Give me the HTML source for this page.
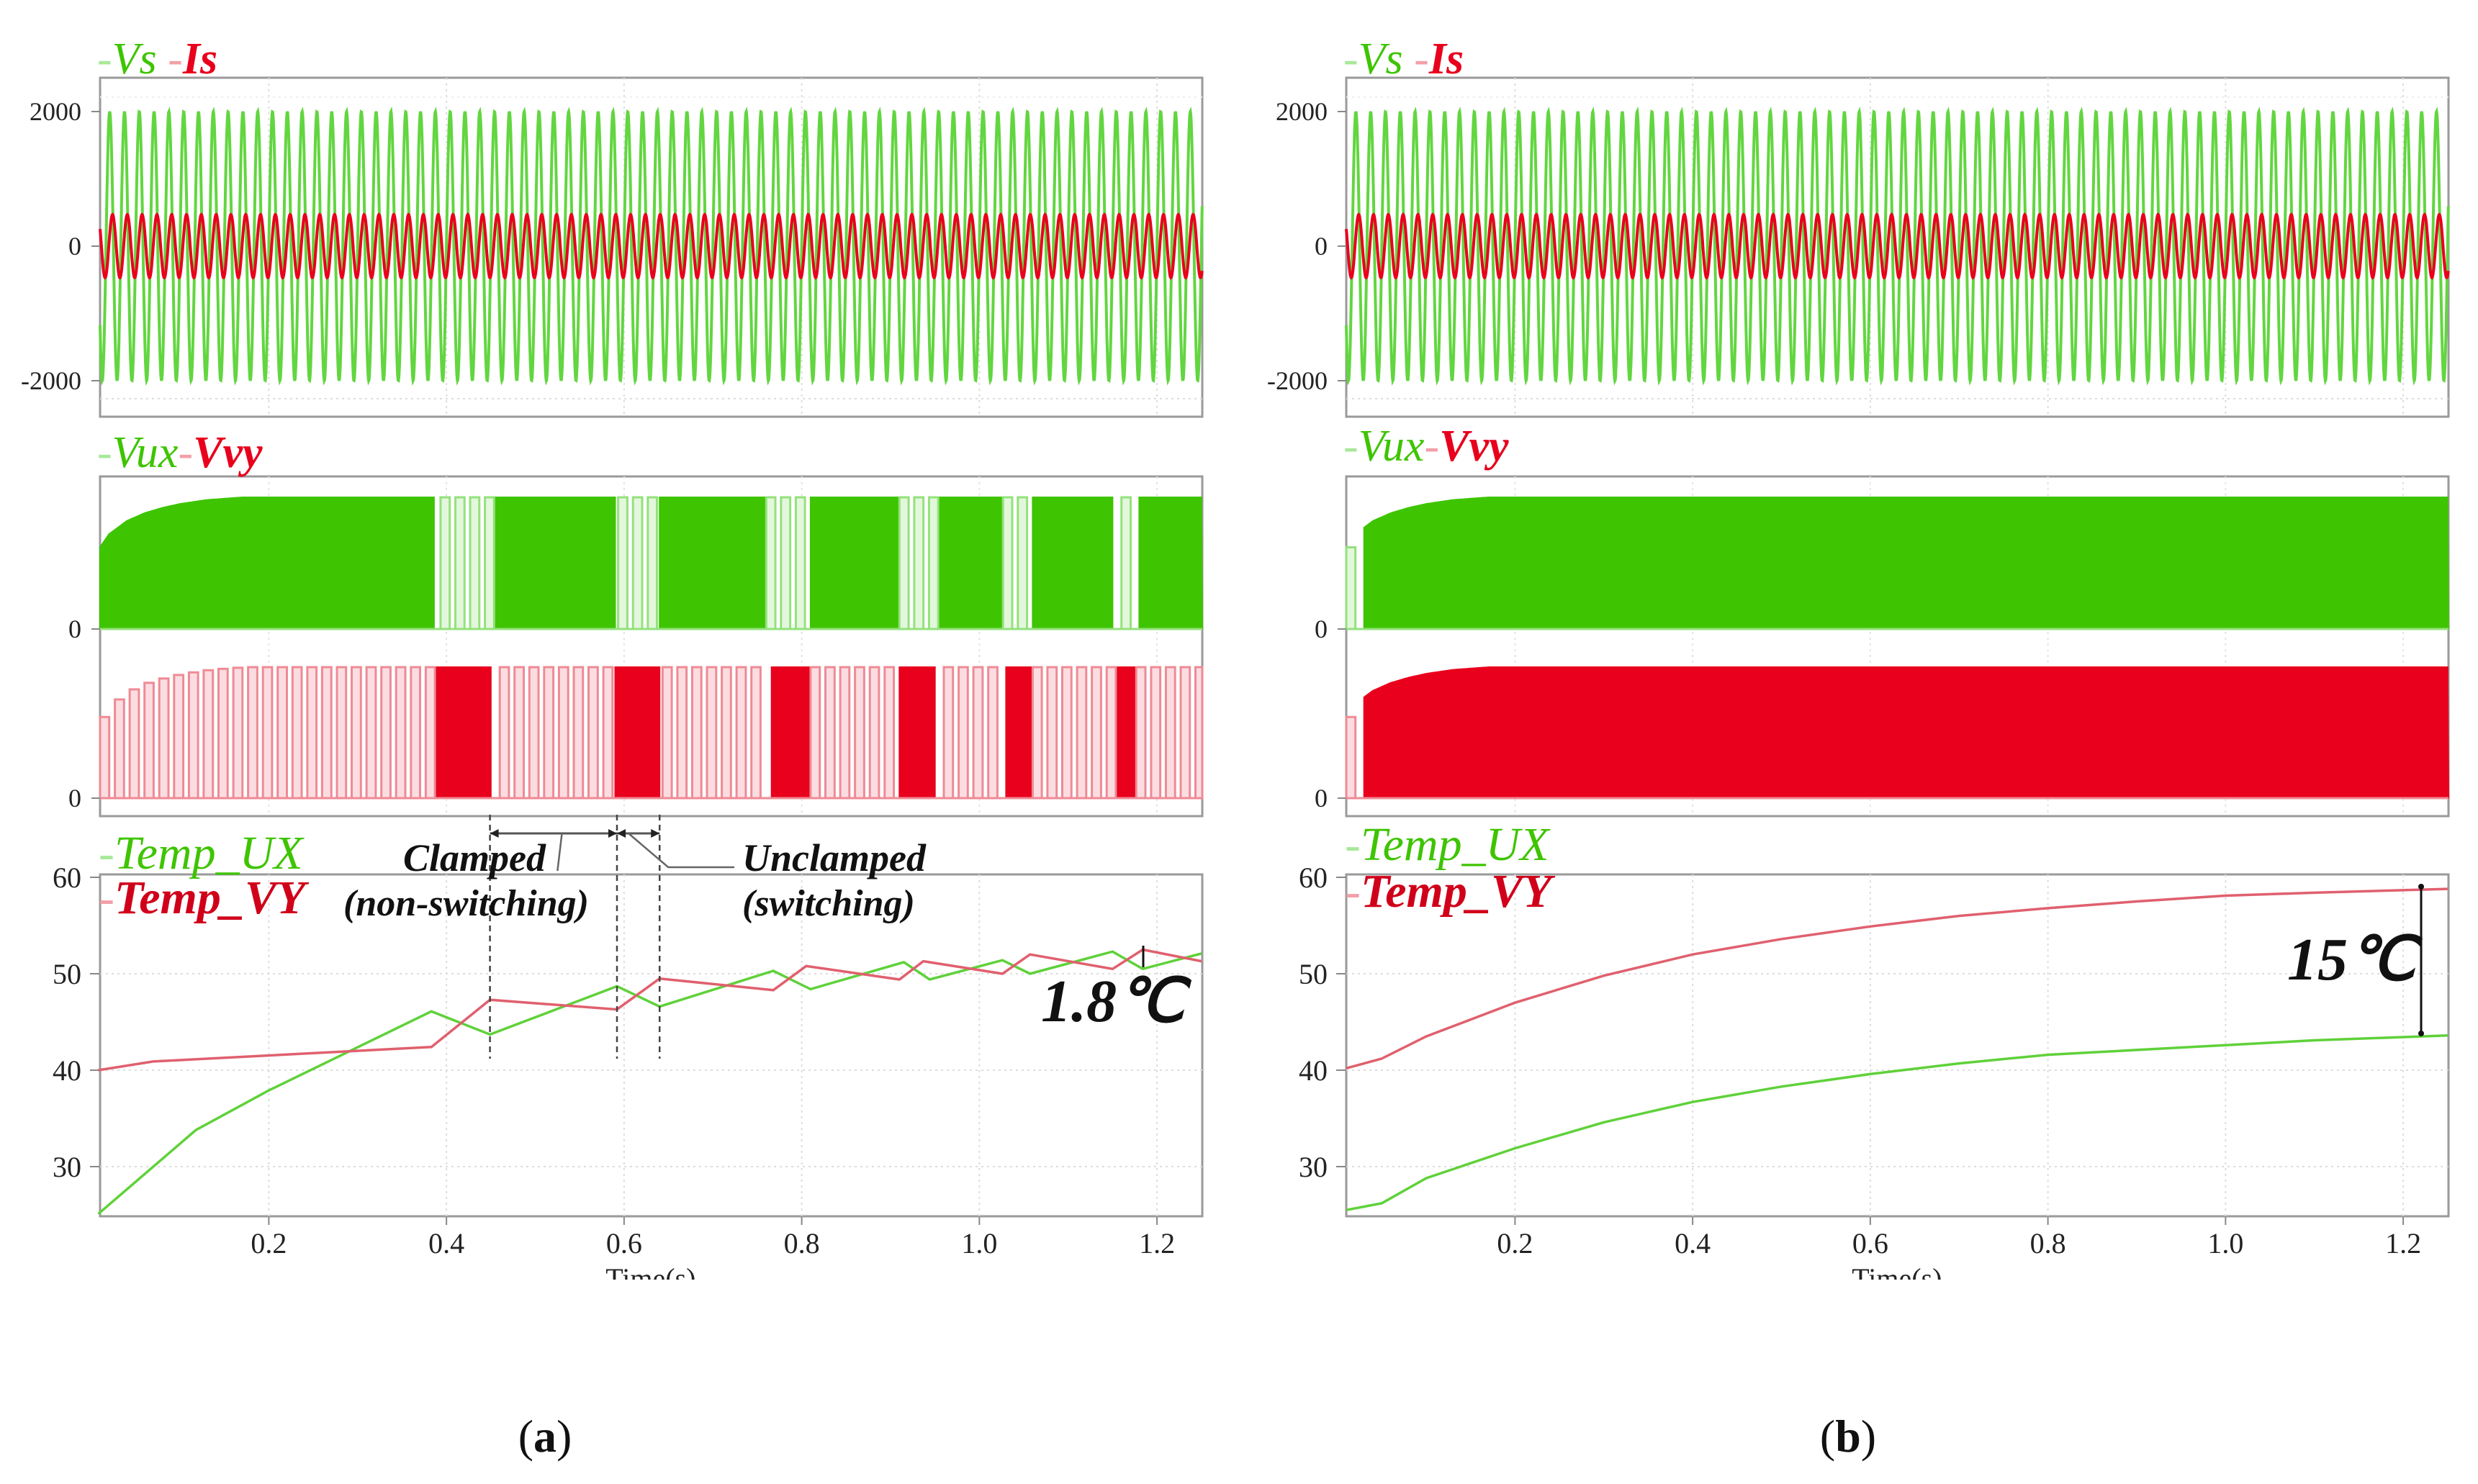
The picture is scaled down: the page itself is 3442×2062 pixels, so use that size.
<!DOCTYPE html>
<html><head><meta charset="utf-8"><style>
html,body{margin:0;padding:0;background:#fff;}
svg{display:block;}
text{font-family:"Liberation Serif",serif;}
</style></head><body>
<svg id="fig" width="3442" height="2062" viewBox="0 0 3442 2062" xmlns="http://www.w3.org/2000/svg"></svg>
<script>
// ---------- data ----------
const freqHz = 60;
const vsAmp = 2000;
const isAmp = 470;
const vsTicks = [2000, 0, -2000];
const timeTicks = [0.2, 0.4, 0.6, 0.8, 1.0, 1.2];
const timeTickLabels = ["0.2","0.4","0.6","0.8","1.0","1.2"];
const tempTicks = [30, 40, 50, 60];
// panel (a) clamped intervals for Vvy (red filled), elsewhere Vux filled
const clampStartA = [0.385, 0.59, 0.765, 0.91, 1.03, 1.15];
const clampEndA   = [0.45, 0.64, 0.81, 0.95, 1.06, 1.18];
// envelope of switching waveform (normalised)
const envT = [0.01, 0.02, 0.04, 0.06, 0.08, 0.10, 0.13, 0.17, 1.3];
const envV = [0.62, 0.72, 0.82, 0.88, 0.92, 0.95, 0.98, 1.0, 1.0];
// temperatures panel (a)
const tUXa = [0.008, 0.118, 0.2, 0.383, 0.449, 0.592, 0.64, 0.768, 0.81, 0.915, 0.944, 1.026, 1.057, 1.15, 1.184, 1.25];
const vUXa = [25.1, 33.8, 37.9, 46.1, 43.7, 48.7, 46.6, 50.3, 48.4, 51.2, 49.4, 51.4, 50.0, 52.3, 50.5, 52.1];
const tVYa = [0.008, 0.07, 0.383, 0.449, 0.592, 0.64, 0.768, 0.805, 0.91, 0.937, 1.026, 1.057, 1.15, 1.184, 1.25];
const vVYa = [40.0, 40.9, 42.4, 47.3, 46.3, 49.5, 48.3, 50.8, 49.4, 51.3, 50.0, 52.0, 50.5, 52.5, 51.3];
// temperatures panel (b)
const tB  = [0.01, 0.05, 0.1, 0.2, 0.3, 0.4, 0.5, 0.6, 0.7, 0.8, 0.9, 1.0, 1.1, 1.25];
const vVYb = [40.2, 41.2, 43.5, 47.0, 49.8, 52.0, 53.6, 54.9, 56.0, 56.8, 57.5, 58.1, 58.4, 58.8];
const vUXb = [25.5, 26.2, 28.8, 31.9, 34.6, 36.7, 38.3, 39.6, 40.7, 41.6, 42.1, 42.6, 43.1, 43.6];

// ---------- helpers ----------
const NS = "http://www.w3.org/2000/svg";
const svg = document.getElementById('fig');
function mk(tag, attrs, parent){
  const e = document.createElementNS(NS, tag);
  for (const k in attrs) e.setAttribute(k, attrs[k]);
  (parent||svg).appendChild(e);
  return e;
}
function interp(xs, ys, x){
  if (x <= xs[0]) return ys[0];
  for (let i=1;i<xs.length;i++){ if (x<=xs[i]) { const f=(x-xs[i-1])/(xs[i]-xs[i-1]); return ys[i-1]+f*(ys[i]-ys[i-1]); } }
  return ys[ys.length-1];
}
const G='#3ec400', R='#e8001c', LG='#93e27c', LR='#ef8a95';

function panel(ox, label, isA){
  const L = ox+139, Rr = ox+1670;
  const t0=0.01, t1=1.251;
  const X = t => L + (t-t0)/(t1-t0)*(Rr-L);
  const g = mk('g',{});
  
  

  // ===== plot 1: Vs / Is =====
  const p1T=108, p1B=579;
  const Y1 = v => 342 - v/2000*(342-155);
  const box1 = mk('rect',{x:L,y:p1T,width:Rr-L,height:p1B-p1T,fill:'#fff',stroke:'#9a9a9a','stroke-width':3},g);
   
  for (const tt of timeTicks){ mk('line',{x1:X(tt),x2:X(tt),y1:p1T,y2:p1B,stroke:'#ddd','stroke-dasharray':'3 5','stroke-width':2},g); }
  mk('line',{x1:L,x2:Rr,y1:Y1(-2000)+25,y2:Y1(-2000)+25,stroke:'#ddd','stroke-dasharray':'3 5','stroke-width':2},g);
  mk('line',{x1:L,x2:Rr,y1:Y1(2000)-20,y2:Y1(2000)-20,stroke:'#eee','stroke-dasharray':'3 5','stroke-width':2},g);
  let dv='', di='';
  for (let t=t0; t<=t1; t+=0.0004){
    const w=2*Math.PI*freqHz*t;
    dv += (dv?'L':'M')+X(t).toFixed(1)+' '+Y1(vsAmp*Math.sin(w)).toFixed(1);
    di += (di?'L':'M')+X(t).toFixed(1)+' '+Y1(isAmp*Math.sin(w-1.2)).toFixed(1);
  }
  const vs = mk('path',{d:dv,fill:'none',stroke:'#62d640','stroke-width':4},g);
   
  const is = mk('path',{d:di,fill:'none',stroke:R,'stroke-width':4},g);
   
  for (const v of vsTicks){
    mk('line',{x1:L-12,x2:L,y1:Y1(v),y2:Y1(v),stroke:'#888','stroke-width':2},g);
    const tx = mk('text',{x:L-26,y:Y1(v)+12,'font-size':36,'text-anchor':'end',fill:'#222'},g);
    tx.textContent = String(v);
     
  }
  const leg1 = mk('text',{x:L-4,y:102,'font-size':62,'font-style':'italic'},g);
   
  leg1.innerHTML = '<tspan fill="#a8e89a">-</tspan><tspan fill="'+G+'">Vs</tspan><tspan fill="#f2a0a8"> -</tspan><tspan fill="'+R+'" font-weight="bold">Is</tspan>';

  // ===== plot 2: Vux / Vvy =====
  const p2T=662, p2B=1134;
  const box2 = mk('rect',{x:L,y:p2T,width:Rr-L,height:p2B-p2T,fill:'#fff',stroke:'#9a9a9a','stroke-width':3},g);
   
  for (const tt of timeTicks){ mk('line',{x1:X(tt),x2:X(tt),y1:p2T,y2:p2B,stroke:'#e4e4e4','stroke-dasharray':'3 5','stroke-width':2},g); }
  const YUX = v => 874 - v*(874-691);
  const YVY = v => 1109 - v*(1109-927);
  function isClamped(t){
    if (!isA) return false;
    for (let i=0;i<clampStartA.length;i++) if (t>=clampStartA[i] && t<clampEndA[i]) return true;
    return false;
  }
  function drawSwitch(Y, filledFn, fillCol, pulseStroke, pulseFill, nm){
    let d='';
    let inF=false, start=0;
    const step=0.002;
    const segs=[];
    for (let t=t0; t<=t1+1e-9; t+=step){
      const f=filledFn(t);
      if (f && !inF){inF=true; start=t;}
      if (!f && inF){inF=false; segs.push([start,t]);}
    }
    if (inF) segs.push([start,t1]);
    for (const s of segs){
      let p='M'+X(s[0]).toFixed(1)+' '+Y(0);
      for (let t=s[0]; t<=s[1]+1e-9; t+=step) p+='L'+X(t).toFixed(1)+' '+Y(interp(envT,envV,t)).toFixed(1);
      p+='L'+X(s[1]).toFixed(1)+' '+Y(0)+'Z';
      d+=p;
    }
    const pf = mk('path',{d:d,fill:fillCol,stroke:fillCol,'stroke-width':2},g);
     
    const P=1/freqHz;
    let dp='';
    for (let k=0; t0+k*P<t1; k++){
      const a=t0+k*P, b=a+0.62*P;
      if (filledFn(a+0.3*P)) continue;
      const h=interp(envT,envV,a);
      dp+='M'+X(a).toFixed(1)+' '+Y(0)+'L'+X(a).toFixed(1)+' '+Y(h).toFixed(1)+'L'+X(Math.min(b,t1)).toFixed(1)+' '+Y(h).toFixed(1)+'L'+X(Math.min(b,t1)).toFixed(1)+' '+Y(0)+'Z';
    }
    const pp = mk('path',{d:dp,fill:pulseFill,stroke:pulseStroke,'stroke-width':3},g);
     
    mk('line',{x1:L,x2:Rr,y1:Y(0),y2:Y(0),stroke:pulseStroke,'stroke-width':3},g);
  }
  if (isA){
    drawSwitch(YUX, t=>!isClamped(t), G, LG, '#e3f7dc', 'vux');
    drawSwitch(YVY, t=>isClamped(t), R, LR, '#fbdde1', 'vvy');
  } else {
    drawSwitch(YUX, t=>t>0.03, G, LG, '#e3f7dc', 'vux');
    drawSwitch(YVY, t=>t>0.03, R, LR, '#fbdde1', 'vvy');
  }
  for (const y of [874,1109]){
    mk('line',{x1:L-12,x2:L,y1:y,y2:y,stroke:'#888','stroke-width':2},g);
    const tx = mk('text',{x:L-26,y:y+12,'font-size':36,'text-anchor':'end',fill:'#222'},g);
    tx.textContent='0';
     
  }
  const leg2 = mk('text',{x:L-4,y:(isA?649:640),'font-size':62,'font-style':'italic'},g);
   
  leg2.innerHTML = '<tspan fill="#a8e89a">-</tspan><tspan fill="'+G+'">Vux</tspan><tspan fill="#f2a0a8">-</tspan><tspan fill="'+R+'" font-weight="bold">Vvy</tspan>';

  // ===== plot 3: temperatures =====
  const p3T=1215, p3B=1690;
  const YT = v => 1487 - (v-40)*13.4;
  const box3 = mk('rect',{x:L,y:p3T,width:Rr-L,height:p3B-p3T,fill:'#fff',stroke:'#9a9a9a','stroke-width':3},g);
   
  for (const tt of timeTicks){ mk('line',{x1:X(tt),x2:X(tt),y1:p3T,y2:p3B,stroke:'#ddd','stroke-dasharray':'3 5','stroke-width':2},g); }
  for (const v of tempTicks){
    if (v<60) mk('line',{x1:L,x2:Rr,y1:YT(v),y2:YT(v),stroke:'#ddd','stroke-dasharray':'3 5','stroke-width':2},g);
    mk('line',{x1:L-14,x2:L,y1:YT(v),y2:YT(v),stroke:'#888','stroke-width':2},g);
    const tx = mk('text',{x:L-26,y:YT(v)+14,'font-size':40,'text-anchor':'end',fill:'#222'},g);
    tx.textContent=String(v);
     
  }
  timeTicks.forEach((tt,i)=>{
    mk('line',{x1:X(tt),x2:X(tt),y1:p3B,y2:p3B+12,stroke:'#888','stroke-width':2},g);
    const tx = mk('text',{x:X(tt),y:1741,'font-size':40,'text-anchor':'middle',fill:'#222'},g);
    tx.textContent=timeTickLabels[i];
     
  });
  const tl = mk('text',{x:X(0.63),y:1790,'font-size':40,'text-anchor':'middle',fill:'#222'},g);
  tl.textContent='Time(s)';
   
  mk('rect',{x:ox,y:1778,width:1721,height:40,fill:'#fff'},g);
  function line(ts, vs, col, nm){
    const d = ts.map((t,i)=>(i?'L':'M')+X(t).toFixed(1)+' '+YT(vs[i]).toFixed(1)).join('');
    const p = mk('path',{d:d,fill:'none',stroke:col,'stroke-width':3.5},g);
     
  }
  if (isA){
    line(tUXa, vUXa, '#5fd13a', 'temp-ux-line');
    line(tVYa, vVYa, '#e0606e', 'temp-vy-line');
  } else {
    line(tB, vUXb, '#5fd13a', 'temp-ux-line');
    line(tB, vVYb, '#e0606e', 'temp-vy-line');
  }
  const ly1 = isA?1207:1195, ly2 = isA?1269:1260;
  const l3a = mk('text',{x:L-2,y:ly1,'font-size':66,'font-style':'italic'},g);
  l3a.innerHTML='<tspan fill="#a8e89a">-</tspan><tspan fill="'+G+'">Temp_UX</tspan>';
   
  const l3b = mk('text',{x:L-2,y:ly2,'font-size':66,'font-style':'italic'},g);
  l3b.innerHTML='<tspan fill="#f2a0a8">-</tspan><tspan fill="#d0001a" font-weight="bold">Temp_VY</tspan>';
   

  const cap = mk('text',{x:ox+(isA?757:836),y:2017,'font-size':64,'text-anchor':'middle',fill:'#111'},g);
  cap.innerHTML = '(<tspan font-weight="bold">'+label+'</tspan>)';
   
  return {X, YT, g};
}

const A = panel(0,'a',true);
const B = panel(1731,'b',false);

(function(){
  const g=A.g, X=A.X;
  const xs=[0.449,0.592,0.64].map(X);
  for (const x of xs){ const l=mk('line',{x1:x,x2:x,y1:1132,y2:1471,stroke:'#444','stroke-width':2.5,'stroke-dasharray':'8 6'},g);
      }
  mk('line',{x1:xs[0],x2:xs[1],y1:1158,y2:1158,stroke:'#555','stroke-width':3},g);
  mk('line',{x1:xs[1],x2:xs[2],y1:1158,y2:1158,stroke:'#555','stroke-width':3},g);
  for (const [x,dir] of [[xs[0],1],[xs[1],-1],[xs[1],1],[xs[2],-1]]){
    mk('path',{d:`M${x} 1158 l${dir*12} -6 l0 12Z`,fill:'#222'},g);
  }
  mk('path',{d:`M${X(0.53)} 1158 L${X(0.525)} 1210`,stroke:'#666','stroke-width':2.5,fill:'none'},g);
  mk('path',{d:`M${X(0.605)} 1158 L${X(0.64)+12} 1205 L1020 1205`,stroke:'#666','stroke-width':2.5,fill:'none'},g);
  const t1=mk('text',{x:560,y:1210,'font-size':54,'font-style':'italic','font-weight':'bold',fill:'#111'},g); t1.textContent='Clamped';
   
  const t2=mk('text',{x:477,y:1272,'font-size':52,'font-style':'italic','font-weight':'bold',fill:'#111'},g); t2.textContent='(non-switching)';
   
  const t3=mk('text',{x:1031,y:1210,'font-size':54,'font-style':'italic','font-weight':'bold',fill:'#111'},g); t3.textContent='Unclamped';
   
  const t4=mk('text',{x:1031,y:1272,'font-size':52,'font-style':'italic','font-weight':'bold',fill:'#111'},g); t4.textContent='(switching)';
   
  mk('line',{x1:1588,x2:1588,y1:1314,y2:1344,stroke:'#111','stroke-width':3},g);
  const d=mk('text',{x:1446,y:1419,'font-size':84,'font-style':'italic','font-weight':'bold',fill:'#111'},g); d.textContent='1.8℃';
   
})();
(function(){
  const g=B.g;
  mk('line',{x1:3363,x2:3363,y1:1232,y2:1436,stroke:'#111','stroke-width':3},g);
  mk('circle',{cx:3363,cy:1232,r:4,fill:'#111'},g);
  mk('circle',{cx:3363,cy:1436,r:4,fill:'#111'},g);
  const d=mk('text',{x:3177,y:1361,'font-size':84,'font-style':'italic','font-weight':'bold',fill:'#111'},g); d.textContent='15℃';
   
})();
</script>
</body></html>
